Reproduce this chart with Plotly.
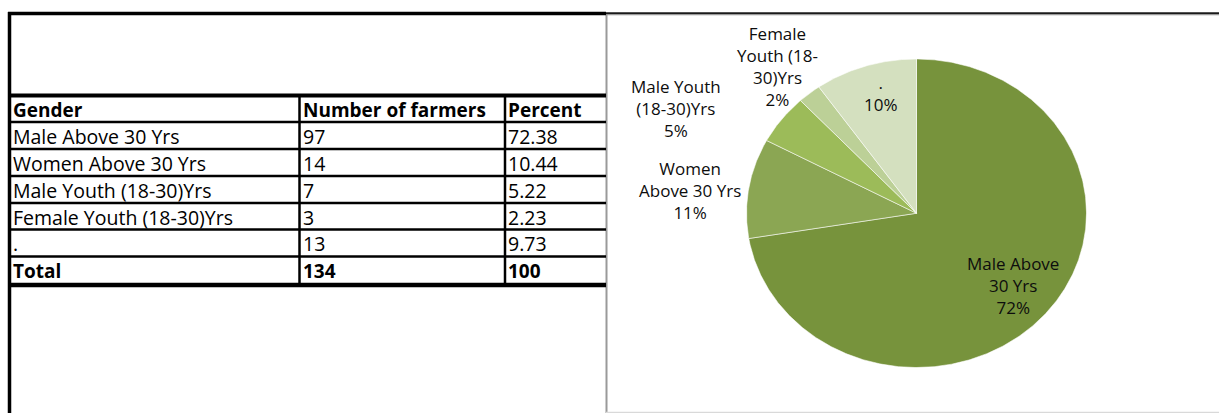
import math
import plotly.graph_objects as go

# ---------------- data ----------------
table_header = ["Gender", "Number of farmers", "Percent"]
categories = ["Male Above 30 Yrs", "Women Above 30 Yrs", "Male Youth (18-30)Yrs",
              "Female Youth (18-30)Yrs", "."]
farmers = [97, 14, 7, 3, 13]
percent = [72.38, 10.44, 5.22, 2.23, 9.73]
total_label = "Total"
pie_labels = ["Male Above<br>30 Yrs", "Women<br>Above 30 Yrs", "Male Youth<br>(18-30)Yrs",
              "Female<br>Youth (18-<br>30)Yrs", "."]
pie_pct_labels = ["72%", "11%", "5%", "2%", "10%"]

# ---------------- styles / layout ----------------
W, H = 1219, 413
slice_colors = ["#77933C", "#8BA653", "#9CBB59", "#BCD097", "#D4E0BF"]
TABLE_FONT = dict(family="Open Sans", size=19.5, color="#000000")
TABLE_BOLD_FONT = dict(family="Open Sans", size=19, color="#000000")
PIE_FONT = dict(family="Open Sans", size=17, color="#0d0d0d")

# pie ellipse (pixel layout)
CX, CY, RX, RY = 916.5, 213.25, 170.0, 154.25
# label centres (pixel layout)
label_pos = [(1013, 285), (690, 190), (676, 109), (777, 66), (881, 94)]

# table grid (pixel layout)
col_edges = [9.5, 299.5, 505.0, 606.0]
row_lines = [95.5, 122.0, 149.0, 176.0, 203.0, 229.5, 256.5, 284.5]


def px(x):
    return x / W


def py(y):
    return 1 - y / H


fig = go.Figure()

# ---------------- pie (elliptical, via axis scaling) ----------------
total_pct = sum(percent)
start = 0.0
for i, (cat, val) in enumerate(zip(categories, percent)):
    span = val / total_pct * 360.0
    n = max(4, int(span * 2))
    xs, ys = [0.0], [0.0]
    for k in range(n + 1):
        th = math.radians(start + span * k / n)
        xs.append(math.sin(th))
        ys.append(math.cos(th))
    xs.append(0.0)
    ys.append(0.0)
    fig.add_trace(go.Scatter(
        x=xs, y=ys, mode="lines", fill="toself", fillcolor=slice_colors[i],
        line=dict(color="rgba(255,255,255,0.55)", width=1),
        name=cat, hoverinfo="name", showlegend=False,
        xaxis="x", yaxis="y"))
    start += span

annotations = []
for i in range(len(categories)):
    lx, ly = label_pos[i]
    annotations.append(dict(
        x=px(lx), y=py(ly), xref="paper", yref="paper",
        text=pie_labels[i] + "<br>" + pie_pct_labels[i],
        showarrow=False, align="center", xanchor="center", yanchor="middle",
        font=PIE_FONT))

# ---------------- table ----------------
rows = [table_header]
for c, f, p in zip(categories, farmers, percent):
    rows.append([c, str(f), f"{p:.2f}"])
rows.append([total_label, str(sum(farmers)), f"{round(sum(percent), 2):g}"])
bold_rows = {0, len(rows) - 1}

for r, row in enumerate(rows):
    yc = (row_lines[r] + row_lines[r + 1]) / 2
    for c, txt in enumerate(row):
        bold = r in bold_rows
        t = f"<b>{txt}</b>" if bold else txt
        annotations.append(dict(
            x=px(col_edges[c] + 1.0), y=py(yc + 0.8), xref="paper", yref="paper",
            text=t, showarrow=False, xanchor="left", yanchor="middle",
            align="left", font=TABLE_BOLD_FONT if bold else TABLE_FONT))

shapes = []


def hline(y, x0, x1, w, color="#000000"):
    shapes.append(dict(type="line", xref="paper", yref="paper",
                       x0=px(x0), x1=px(x1), y0=py(y), y1=py(y),
                       line=dict(color=color, width=w)))


def vline(x, y0, y1, w, color="#000000"):
    shapes.append(dict(type="line", xref="paper", yref="paper",
                       x0=px(x), x1=px(x), y0=py(y0), y1=py(y1),
                       line=dict(color=color, width=w)))


# chart frame
vline(606.5, 13, 413, 2, "#9a9a9a")
hline(412.3, 606, W, 1.2, "#d9d9d9")
hline(13.3, 606, W, 2.2, "#1a1a1a")
hline(14.8, 606, W, 1, "#a0a0a0")
# table frame
vline(9.5, 12, 413, 3.5)
hline(13.5, 8, 606, 3.5)
hline(row_lines[0], 8, 606, 4)
for y in row_lines[1:-1]:
    hline(y, 8, 606, 2.5)
hline(row_lines[-1] + 0.5, 8, 606, 4.5)
for x in col_edges[1:3]:
    vline(x, row_lines[0], row_lines[-1], 2.5)

fig.update_layout(
    width=W, height=H,
    margin=dict(l=0, r=0, t=0, b=0),
    paper_bgcolor="#ffffff", plot_bgcolor="rgba(0,0,0,0)",
    xaxis=dict(domain=[px(CX - RX), px(CX + RX)], range=[-1, 1], visible=False,
               fixedrange=True),
    yaxis=dict(domain=[py(CY + RY), py(CY - RY)], range=[-1, 1], visible=False,
               fixedrange=True),
    annotations=annotations,
    shapes=shapes,
    showlegend=False,
)

fig.write_html("out.html")
